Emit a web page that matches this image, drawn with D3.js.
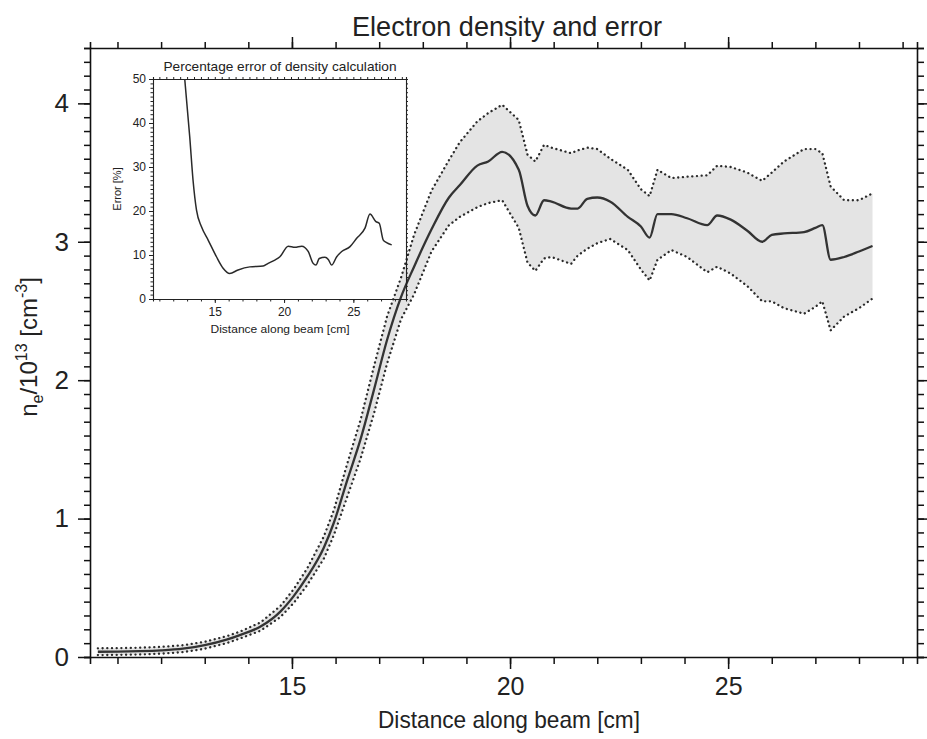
<!DOCTYPE html>
<html><head><meta charset="utf-8">
<script src="https://cdn.jsdelivr.net/npm/d3@7"></script>
<style>
body{margin:0;background:#fff}
svg{display:block;background:#fff}
text{font-family:"Liberation Sans",Arial,sans-serif;fill:#222}
</style>
</head><body>
<svg id="c" width="927" height="739"></svg>
<script>
// ---- Main chart data (distance in cm, density in 1e13 cm^-3) ----
const distance = [10.55,11,11.5,12,12.5,13,13.5,13.82,14.28,14.74,15.04,15.35,15.73,15.96,16.27,16.57,16.88,17.18,17.5,17.8,18.2,18.6,18.85,19.25,19.5,19.82,20.2,20.4,20.58,20.78,20.95,21.4,21.55,21.77,22.0,22.3,22.7,23.0,23.2,23.38,23.7,24.06,24.52,24.75,25.06,25.44,25.78,26.0,26.28,26.74,27.0,27.16,27.35,27.66,28.0,28.31];
const density = [0.038,0.039,0.042,0.048,0.06,0.085,0.125,0.16,0.22,0.33,0.44,0.58,0.79,0.97,1.28,1.57,1.93,2.29,2.60,2.82,3.09,3.32,3.41,3.55,3.58,3.65,3.52,3.26,3.19,3.30,3.29,3.24,3.24,3.31,3.32,3.29,3.18,3.11,3.03,3.20,3.20,3.17,3.12,3.19,3.16,3.08,3.00,3.05,3.06,3.07,3.10,3.12,2.87,2.89,2.93,2.97];
const densityUpper = [0.063,0.064,0.067,0.073,0.085,0.11,0.15,0.185,0.25,0.37,0.49,0.64,0.87,1.06,1.40,1.71,2.10,2.46,2.74,3.05,3.37,3.59,3.72,3.87,3.93,3.99,3.88,3.63,3.58,3.70,3.68,3.64,3.66,3.68,3.67,3.60,3.52,3.38,3.33,3.52,3.46,3.47,3.48,3.55,3.54,3.50,3.44,3.50,3.58,3.67,3.67,3.64,3.40,3.30,3.30,3.35];
const densityLower = [0.014,0.015,0.018,0.024,0.035,0.06,0.10,0.135,0.19,0.29,0.39,0.52,0.71,0.88,1.16,1.43,1.76,2.12,2.44,2.62,2.93,3.12,3.18,3.25,3.28,3.30,3.10,2.85,2.79,2.88,2.89,2.84,2.90,2.95,2.99,3.02,2.94,2.80,2.72,2.87,2.94,2.89,2.78,2.82,2.77,2.68,2.57,2.57,2.52,2.48,2.53,2.57,2.36,2.46,2.52,2.59];

// ---- Inset data (percentage error) ----
const errDistance = [12.83,13.19,13.43,13.68,14.04,14.52,15.12,15.6,16.08,16.68,17.53,18.49,18.85,19.3,19.7,20.3,20.78,21.27,21.74,22.1,22.3,22.54,22.95,23.19,23.43,23.8,24.16,24.76,25.24,25.84,26.2,26.63,26.87,27.16,27.4,27.77];
const errPercent = [50,36.9,27.0,20.2,16.4,13.4,9.6,7.0,5.8,6.6,7.3,7.5,8.1,8.8,9.6,12.0,11.75,12.0,10.8,8.1,7.7,9.2,9.5,9.0,7.7,9.6,10.8,11.9,13.8,16.1,19.3,17.6,17.2,13.4,12.8,12.3];

const mainXTicks = [15,20,25];
const mainYTicks = [0,1,2,3,4];
const insetXTicks = [15,20,25];
const insetYTicks = [0,10,20,30,40,50];

const titleText = "Electron density and error";
const xLabelText = "Distance along beam [cm]";
const insetTitleText = "Percentage error of density calculation";
const insetYLabelText = "Error [%]";

const svg = d3.select("#c");

// ---- Main scales ----
const x = d3.scaleLinear().domain([10.37, 29.33]).range([90, 917]);
const y = d3.scaleLinear().domain([0, 4.4]).range([657, 48]);

const rows = distance.map((d,i)=>({x:d, y:density[i], hi:densityUpper[i], lo:densityLower[i]}));

// band fill
svg.append("path").datum(rows)
  .attr("d", d3.area().x(d=>x(d.x)).y0(d=>y(d.lo)).y1(d=>y(d.hi)))
  .attr("fill","#e4e4e4").attr("stroke","none");

// dotted bounds
const dotStyle = sel => sel.attr("fill","none").attr("stroke","#2a2a2a")
  .attr("stroke-width",2.3).attr("stroke-linecap","round").attr("stroke-dasharray","0.1,4.6");
svg.append("path").datum(rows).attr("d", d3.line().x(d=>x(d.x)).y(d=>y(d.hi))).call(dotStyle);
svg.append("path").datum(rows).attr("d", d3.line().x(d=>x(d.x)).y(d=>y(d.lo))).call(dotStyle);

// main curve
svg.append("path").datum(rows)
  .attr("d", d3.line().x(d=>x(d.x)).y(d=>y(d.y)).curve(d3.curveMonotoneX))
  .attr("fill","none").attr("stroke","#333").attr("stroke-width",2.3);

// ---- Main axes ----
const axStyle = g => {
  g.selectAll("path.domain").attr("stroke","#111").attr("stroke-width",1.6);
  g.selectAll(".tick line").attr("stroke","#111").attr("stroke-width",1.5);
  g.selectAll(".tick text").attr("fill","#222").style("font-family","'Liberation Sans',Arial,sans-serif");
};
const intTicks = d3.range(11, 30);
const tenthTicks = d3.range(0, 45).map(i=>i/10);

// bottom
svg.append("g").attr("transform","translate(0,657)")
  .call(d3.axisBottom(x).tickValues(intTicks).tickSize(7).tickFormat("")).call(axStyle);
svg.append("g").attr("transform","translate(0,657)")
  .call(d3.axisBottom(x).tickValues(mainXTicks).tickSize(12).tickPadding(8).tickFormat(d3.format("d")))
  .call(axStyle).call(g=>g.selectAll(".tick text").attr("font-size",25))
  .call(g=>g.select("path.domain").remove());
// top
svg.append("g").attr("transform","translate(0,48)")
  .call(d3.axisTop(x).tickValues(intTicks).tickSize(6).tickFormat("")).call(axStyle);
svg.append("g").attr("transform","translate(0,48)")
  .call(d3.axisTop(x).tickValues(mainXTicks).tickSize(11).tickFormat(""))
  .call(axStyle).call(g=>g.select("path.domain").remove());
// left
svg.append("g").attr("transform","translate(90,0)")
  .call(d3.axisLeft(y).tickValues(tenthTicks).tickSize(6).tickFormat("")).call(axStyle);
svg.append("g").attr("transform","translate(90,0)")
  .call(d3.axisLeft(y).tickValues(mainYTicks).tickSize(12).tickPadding(9).tickFormat(d3.format("d")))
  .call(axStyle).call(g=>g.selectAll(".tick text").attr("font-size",26))
  .call(g=>g.select("path.domain").remove());
// right
svg.append("g").attr("transform","translate(917,0)")
  .call(d3.axisRight(y).tickValues(tenthTicks).tickSize(7).tickFormat("")).call(axStyle);
svg.append("g").attr("transform","translate(917,0)")
  .call(d3.axisRight(y).tickValues(mainYTicks).tickSize(12).tickFormat(""))
  .call(axStyle).call(g=>g.select("path.domain").remove());

// titles
svg.append("text").attr("x",507).attr("y",36).attr("text-anchor","middle")
  .attr("font-size",28).attr("textLength",310).attr("lengthAdjust","spacingAndGlyphs").text(titleText);
svg.append("text").attr("x",509).attr("y",728).attr("text-anchor","middle")
  .attr("font-size",24).attr("textLength",262).attr("lengthAdjust","spacingAndGlyphs").text(xLabelText);
const yl = svg.append("text").attr("transform","translate(37,347) rotate(-90)")
  .attr("text-anchor","middle").attr("font-size",24);
yl.append("tspan").text("n");
yl.append("tspan").attr("font-size",16).attr("dy",6).text("e");
yl.append("tspan").attr("dy",-6).text("/10");
yl.append("tspan").attr("font-size",16).attr("dy",-10).text("13");
yl.append("tspan").attr("dy",10).text(" [cm");
yl.append("tspan").attr("font-size",16).attr("dy",-10).text("-3");
yl.append("tspan").attr("dy",10).text("]");

// ---- Inset ----
const ix = d3.scaleLinear().domain([10.54, 28.8]).range([153, 406]);
const iy = d3.scaleLinear().domain([0, 50]).range([299, 79]);
const inset = svg.append("g");
const iStyle = g => {
  g.selectAll("path.domain").attr("stroke","#222").attr("stroke-width",1.1);
  g.selectAll(".tick line").attr("stroke","#222").attr("stroke-width",1);
  g.selectAll(".tick text").attr("fill","#222").attr("font-size",12)
    .style("font-family","'Liberation Sans',Arial,sans-serif");
};
const iInt = d3.range(11, 29);
const iPct = d3.range(0, 51);
inset.append("g").attr("transform","translate(0,299)")
  .call(d3.axisBottom(ix).tickValues(iInt).tickSize(2.5).tickFormat("")).call(iStyle);
inset.append("g").attr("transform","translate(0,299)")
  .call(d3.axisBottom(ix).tickValues(insetXTicks).tickSize(4).tickPadding(4).tickFormat(d3.format("d")))
  .call(iStyle).call(g=>g.select("path.domain").remove());
inset.append("g").attr("transform","translate(0,79)")
  .call(d3.axisTop(ix).tickValues(d3.range(11,29,0.5)).tickSize(2).tickFormat("")).call(iStyle);
inset.append("g").attr("transform","translate(153,0)")
  .call(d3.axisLeft(iy).tickValues(iPct).tickSize(2.5).tickFormat("")).call(iStyle);
inset.append("g").attr("transform","translate(153,0)")
  .call(d3.axisLeft(iy).tickValues(insetYTicks).tickSize(4).tickPadding(3).tickFormat(d3.format("d")))
  .call(iStyle).call(g=>g.select("path.domain").remove());
inset.append("g").attr("transform","translate(406,0)")
  .call(d3.axisRight(iy).tickValues(iPct).tickSize(2).tickFormat("")).call(iStyle);

inset.append("defs").append("clipPath").attr("id","iclip")
  .append("rect").attr("x",153).attr("y",79).attr("width",253).attr("height",220);
inset.append("path")
  .datum(errDistance.map((d,i)=>({x:d,y:errPercent[i]})))
  .attr("clip-path","url(#iclip)")
  .attr("d", d3.line().x(d=>ix(d.x)).y(d=>iy(d.y)).curve(d3.curveMonotoneX))
  .attr("fill","none").attr("stroke","#2a2a2a").attr("stroke-width",1.5);

inset.append("text").attr("x",280).attr("y",71).attr("text-anchor","middle")
  .attr("font-size",13).attr("textLength",233).attr("lengthAdjust","spacingAndGlyphs").text(insetTitleText);
inset.append("text").attr("x",280).attr("y",333).attr("text-anchor","middle")
  .attr("font-size",11.5).attr("textLength",139).attr("lengthAdjust","spacingAndGlyphs").text(xLabelText);
inset.append("text").attr("transform","translate(121,189) rotate(-90)").attr("text-anchor","middle")
  .attr("font-size",11).text(insetYLabelText);
</script>
</body></html>
